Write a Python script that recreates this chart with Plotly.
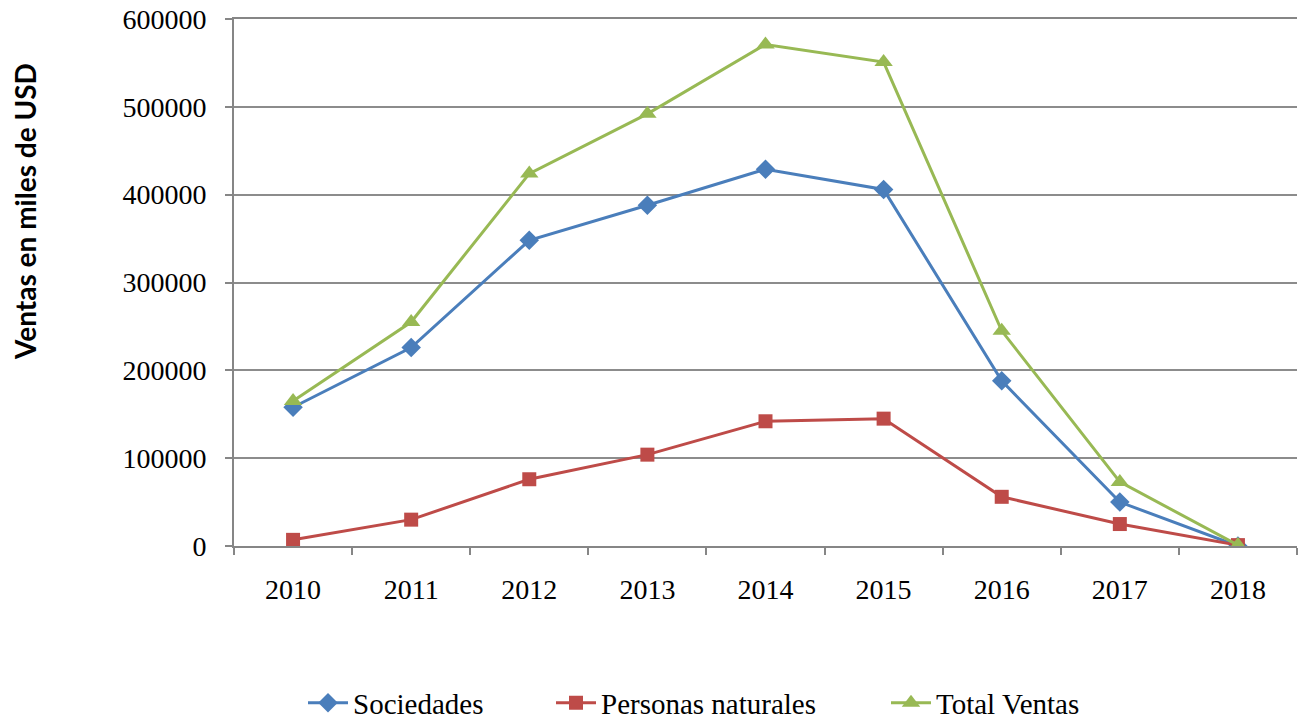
import plotly.graph_objects as go

years = ["2010", "2011", "2012", "2013", "2014", "2015", "2016", "2017", "2018"]
sociedades = [158000, 226000, 348000, 388000, 429000, 406000, 188000, 50000, 0]
personas = [7000, 30000, 76000, 104000, 142000, 145000, 56000, 25000, 1000]
total = [165000, 255000, 424000, 492000, 571000, 551000, 245000, 73000, 1000]
y_ticks = [0, 100000, 200000, 300000, 400000, 500000, 600000]

serif = "Liberation Serif, Times New Roman, serif"

fig = go.Figure()
fig.add_trace(go.Scatter(x=years, y=sociedades, name="Sociedades", mode="lines+markers",
                         line=dict(color="#4A7EBB", width=3),
                         marker=dict(symbol="diamond", size=15, color="#4A7EBB"),
                         legend="legend"))
fig.add_trace(go.Scatter(x=years, y=personas, name="Personas naturales", mode="lines+markers",
                         line=dict(color="#BE4B48", width=3),
                         marker=dict(symbol="square", size=14, color="#BE4B48"),
                         legend="legend2"))
fig.add_trace(go.Scatter(x=years, y=total, name="Total Ventas", mode="lines+markers",
                         line=dict(color="#98B954", width=3),
                         marker=dict(symbol="triangle-up", size=16, color="#98B954"),
                         legend="legend3"))

leg_common = dict(orientation="h", y=-0.346, yanchor="bottom", xanchor="left",
                  font=dict(family=serif, size=29), itemwidth=40,
                  bgcolor="rgba(0,0,0,0)")

fig.update_layout(
    template="none",
    width=1305, height=719,
    margin=dict(l=234, r=8, t=19, b=173, autoexpand=False),
    paper_bgcolor="white", plot_bgcolor="white",
    font=dict(family=serif, size=28, color="#000000"),
    xaxis=dict(type="category", range=[-0.5, 8.5], tickson="boundaries",
               ticks="outside", ticklen=7, tickcolor="#868686", tickwidth=2,
               showline=True, linecolor="#868686", linewidth=2, showgrid=False,
               mirror=True, automargin=False,
               tickfont=dict(family=serif, size=28), ticklabelstandoff=17),
    yaxis=dict(range=[0, 600000], tickvals=y_ticks, tickformat="d",
               ticks="outside", ticklen=7, tickcolor="#868686", tickwidth=2,
               showline=True, linecolor="#868686", linewidth=2,
               showgrid=True, gridcolor="#8C8C8C", gridwidth=2,
               automargin=False,
               tickfont=dict(family=serif, size=28), zeroline=False,
               ticklabelstandoff=13),
    legend=dict(leg_common, x=(303 - 234) / 1063),
    legend2=dict(leg_common, x=(551 - 234) / 1063),
    legend3=dict(leg_common, x=(886 - 234) / 1063),
    showlegend=True,
)
fig.add_annotation(text="<b>Ventas en miles de USD</b>", xref="paper", yref="paper",
                   x=-0.1966, xanchor="center", y=0.634, yanchor="middle",
                   textangle=-90, showarrow=False,
                   font=dict(family="Lato, Open Sans, sans-serif", size=28, color="#000"))

fig.write_html("out.html", config={"displayModeBar": False},
               post_script="document.body.style.margin='0';")
